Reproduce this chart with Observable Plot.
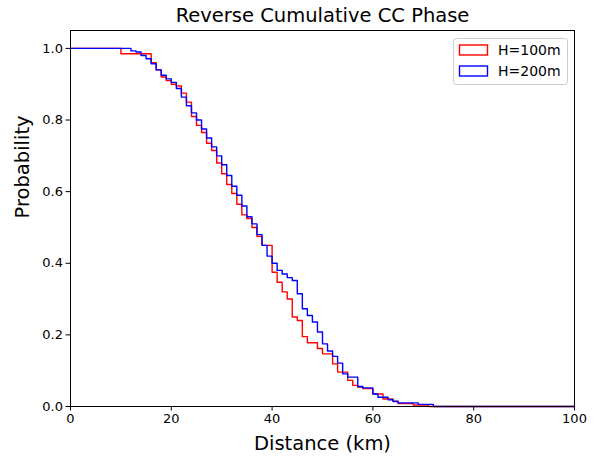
<!DOCTYPE html>
<html>
<head>
<meta charset="utf-8">
<script src="https://cdn.jsdelivr.net/npm/d3@7"></script>
<script src="https://cdn.jsdelivr.net/npm/@observablehq/plot@0.6"></script>
<style>
  html, body { margin: 0; padding: 0; background: #ffffff; }
  #chart svg { display: block; }
</style>
</head>
<body>
<div id="chart"></div>
<script>
// ---- data ----
const chartTitle = "Reverse Cumulative CC Phase";
const xLabel = "Distance (km)";
const yLabel = "Probability";
const seriesNames = ["H=100m", "H=200m"];
const seriesColors = ["#ff0000", "#0000ff"];
const distanceTicks = [0, 20, 40, 60, 80, 100];
const probTicks = [0.0, 0.2, 0.4, 0.6, 0.8, 1.0];
const histRangeEnd = 100;

// bin left edges (km) where the reverse-cumulative value changes, and the value held from there
const redEdges = [0, 10, 16, 17, 18, 19, 20, 21, 22, 23, 24, 25, 26, 27, 28, 29, 30, 31, 32, 33, 34, 35, 36, 37, 38, 40, 41, 42, 43, 44, 45, 46, 47, 49, 50, 52, 53, 55, 56, 57, 58, 60, 62, 64, 65, 68, 71];
const redProb  = [1.0, 0.985, 0.96, 0.94, 0.92, 0.91, 0.90, 0.895, 0.875, 0.85, 0.81, 0.785, 0.765, 0.735, 0.715, 0.68, 0.65, 0.62, 0.595, 0.565, 0.535, 0.525, 0.50, 0.475, 0.45, 0.375, 0.347, 0.32, 0.30, 0.25, 0.24, 0.195, 0.178, 0.162, 0.147, 0.119, 0.096, 0.073, 0.059, 0.054, 0.05, 0.035, 0.021, 0.015, 0.008, 0.004, 0.0];

const blueEdges = [0, 12, 13, 14, 15, 16, 17, 18, 19, 20, 21, 22, 23, 24, 25, 26, 27, 28, 29, 30, 31, 32, 33, 34, 35, 36, 37, 38, 39, 40, 41, 42, 43, 44, 45, 46, 47, 48, 49, 50, 51, 52, 53, 54, 55, 57, 58, 60, 61, 63, 64, 65, 69, 72];
const blueProb  = [1.0, 0.993, 0.99, 0.98, 0.971, 0.957, 0.94, 0.925, 0.915, 0.905, 0.888, 0.864, 0.84, 0.82, 0.80, 0.775, 0.75, 0.725, 0.70, 0.675, 0.645, 0.615, 0.59, 0.56, 0.53, 0.51, 0.48, 0.45, 0.42, 0.40, 0.38, 0.37, 0.36, 0.352, 0.315, 0.273, 0.254, 0.236, 0.208, 0.175, 0.155, 0.14, 0.121, 0.091, 0.082, 0.056, 0.052, 0.035, 0.026, 0.019, 0.014, 0.010, 0.006, 0.0];

function toSteps(edges, probs) {
  const pts = edges.map((x, i) => ({x, y: probs[i]}));
  pts.push({x: histRangeEnd, y: 0});
  return pts;
}
const redData = toSteps(redEdges, redProb);
const blueData = toSteps(blueEdges, blueProb);

const font = "DejaVu Sans, sans-serif";

const svg = Plot.plot({
  width: 604,
  height: 459,
  marginTop: 30,
  marginRight: 30,
  marginBottom: 53,
  marginLeft: 70,
  style: {fontFamily: font, fontSize: "13px", color: "#000", background: "#fff"},
  x: {domain: [0, 100]},
  y: {domain: [0, 1.05]},
  marks: [
    Plot.line(redData, {x: "x", y: "y", curve: "step-after", stroke: seriesColors[0], strokeWidth: 1.4}),
    Plot.line(blueData, {x: "x", y: "y", curve: "step-after", stroke: seriesColors[1], strokeWidth: 1.4}),
    Plot.frame({stroke: "#000", strokeWidth: 1}),
    Plot.axisX({ticks: distanceTicks, tickSize: 4.5, tickPadding: 3, label: null, fontSize: 13}),
    Plot.axisY({ticks: probTicks, tickSize: 4.5, tickPadding: 3, tickFormat: d3.format(".1f"), label: null, fontSize: 13}),
    Plot.text([xLabel], {frameAnchor: "bottom", dy: 37, lineAnchor: "middle", fontSize: 19.5, fill: "#000"}),
    Plot.text([yLabel], {frameAnchor: "left", dx: -48, rotate: -90, lineAnchor: "middle", fontSize: 19.5, fill: "#000"}),
    Plot.text([chartTitle], {frameAnchor: "top", dy: -15, lineAnchor: "middle", fontSize: 19.5, fill: "#000"})
  ]
});

// legend (upper right, matplotlib style)
const lg = d3.select(svg).append("g")
  .attr("font-family", font).attr("font-size", 14).attr("text-anchor", "start");
lg.append("rect")
  .attr("x", 453.5).attr("y", 38.5).attr("width", 114).attr("height", 46)
  .attr("rx", 3).attr("fill", "#fff").attr("fill-opacity", 0.8)
  .attr("stroke", "#cccccc").attr("stroke-width", 1);
seriesNames.forEach((name, i) => {
  const cy = 50 + i * 21;
  lg.append("rect")
    .attr("x", 459.5).attr("y", cy - 5).attr("width", 28).attr("height", 10)
    .attr("fill", "none").attr("stroke", seriesColors[i]).attr("stroke-width", 1.4);
  lg.append("text")
    .attr("x", 498).attr("y", cy).attr("dy", "0.35em")
    .attr("text-anchor", "start")
    .attr("fill", "#000").text(name);
});

document.getElementById("chart").appendChild(svg);
</script>
</body>
</html>
